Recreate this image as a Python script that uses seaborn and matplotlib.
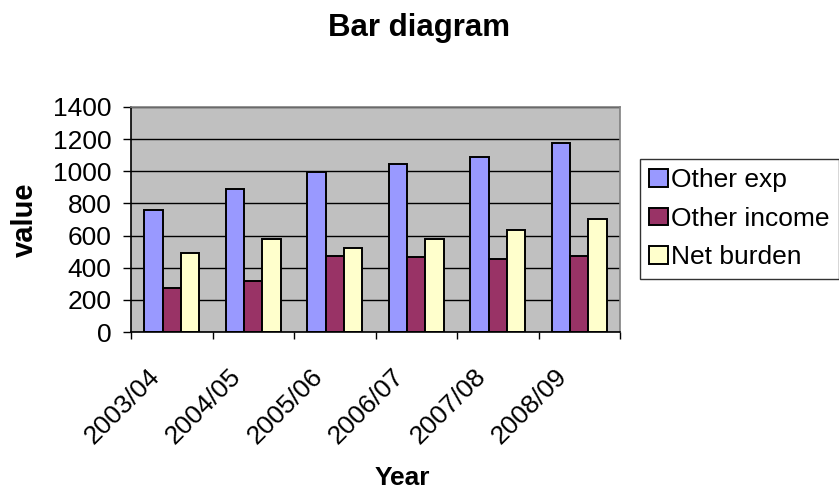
import matplotlib
matplotlib.use("Agg")
import matplotlib.pyplot as plt
import matplotlib.transforms as mtransforms
import seaborn as sns
import pandas as pd
import numpy as np

# DATA
years = ["2003/04", "2004/05", "2005/06", "2006/07", "2007/08", "2008/09"]
other_exp = [762, 890, 994, 1046, 1087, 1178]
other_income = [273, 315, 474, 468, 454, 476]
net_burden = [491, 578, 520, 576, 636, 700]
series_names = ["Other exp", "Other income", "Net burden"]
colors = ["#9999FF", "#993366", "#FFFFCC"]

df = pd.DataFrame({
    "Year": years * 3,
    "Series": [series_names[0]] * 6 + [series_names[1]] * 6 + [series_names[2]] * 6,
    "value": other_exp + other_income + net_burden,
})

# STYLE
sns.set_theme(style="white")
plt.rcParams["font.family"] = ["Liberation Sans", "DejaVu Sans"]
for k in ["text.color", "axes.labelcolor", "xtick.color", "ytick.color"]:
    plt.rcParams[k] = "black"

fig = plt.figure(figsize=(8.39, 4.9), dpi=100)
ax = fig.add_axes([131 / 839, 1 - 332 / 490, 489 / 839, 225 / 490])
ax.set_facecolor("#C0C0C0")

sns.barplot(data=df, x="Year", y="value", hue="Series", order=years,
            hue_order=series_names, palette=colors, width=0.675, gap=0,
            edgecolor="black", linewidth=1.4, saturation=1, ax=ax)

handles = ax.get_legend().legend_handles
labels = [t.get_text() for t in ax.get_legend().get_texts()]
ax.get_legend().remove()

ax.set_ylim(0, 1400)
ax.set_yticks(np.arange(0, 1401, 200))
ax.set_xlim(-0.5, len(years) - 0.5)
ax.yaxis.grid(True, color="black", linewidth=1)
ax.set_axisbelow(True)

# ticks: labels at centres, tick marks at category boundaries
ax.set_xticks(np.arange(len(years)))
ax.set_xticklabels(years, rotation=45, ha="right", va="center", rotation_mode="anchor")
ax.set_xticks(np.arange(len(years) + 1) - 0.5, minor=True)
ax.tick_params(axis="x", which="major", length=0, pad=29, labelsize=19)
ax.tick_params(axis="x", which="minor", length=5, width=1, color="black", direction="out", bottom=True)
ax.tick_params(axis="y", length=6, width=1, color="black", direction="out", left=True, labelsize=19, pad=8)
shift = mtransforms.ScaledTranslation(-16 / 100, 0, fig.dpi_scale_trans)
for lbl in ax.get_xticklabels():
    lbl.set_transform(lbl.get_transform() + shift)

for s in ["top", "right"]:
    ax.spines[s].set_color("#808080")
    ax.spines[s].set_linewidth(1.2)
for s in ["left", "bottom"]:
    ax.spines[s].set_color("black")
    ax.spines[s].set_linewidth(1.2)

ax.set_xlabel("")
ax.set_ylabel("")
fig.text(25 / 839, 1 - 220 / 490, "value", rotation=90, fontsize=21, fontweight="bold",
         ha="center", va="center")
fig.text(402 / 839, 1 - 485 / 490, "Year", fontsize=19, fontweight="bold",
         ha="center", va="baseline")
fig.text(419 / 839, 1 - 28 / 490, "Bar diagram", fontsize=22.5, fontweight="bold",
         ha="center", va="center")

leg = fig.legend(handles, labels, loc="upper left", bbox_to_anchor=(640 / 839, 1 - 159 / 490),
                 borderaxespad=0, frameon=True, fancybox=False, fontsize=19,
                 handlelength=0.7, handleheight=0.65, handletextpad=0.12,
                 labelspacing=0.55, borderpad=0.35)
leg.get_frame().set_edgecolor("black")
leg.get_frame().set_linewidth(1)
for h in leg.legend_handles:
    h.set_edgecolor("black")
    h.set_linewidth(1.4)

plt.savefig("out.png", dpi=100)
